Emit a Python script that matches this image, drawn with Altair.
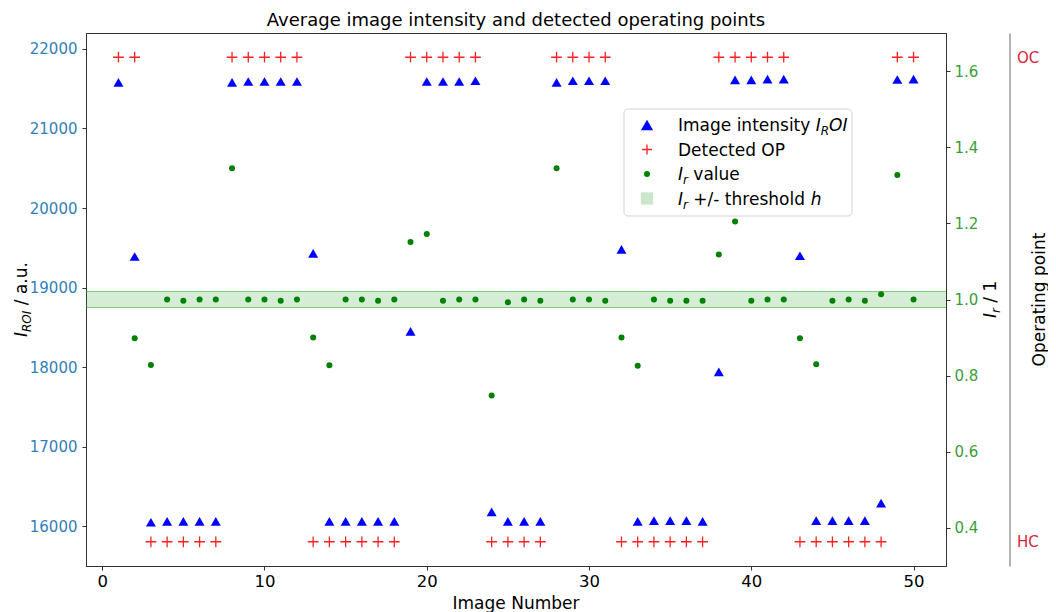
import altair as alt
import pandas as pd

FONT = "DejaVu Sans"

# ---------------- data ----------------
images = list(range(1, 51))
intensity = [21580, 19390, 16050, 16060, 16060, 16060, 16060, 21580, 21590, 21590,
             21590, 21590, 19430, 16060, 16060, 16060, 16060, 16060, 18450, 21590,
             21590, 21590, 21600, 16180, 16060, 16060, 16060, 21580, 21600, 21600,
             21600, 19480, 16060, 16070, 16070, 16070, 16060, 17940, 21610, 21610,
             21620, 21620, 19400, 16070, 16070, 16070, 16070, 16290, 21615, 21620]
ir_values = [None, 0.898, 0.828, 1.0, 0.997, 1.0, 1.0, 1.345, 1.0, 1.0,
             0.997, 1.0, 0.900, 0.827, 1.0, 1.0, 0.997, 1.0, 1.151, 1.172,
             0.997, 1.0, 1.0, 0.748, 0.993, 1.0, 0.997, 1.345, 1.0, 1.0,
             0.997, 0.900, 0.826, 1.0, 0.997, 0.997, 0.997, 1.118, 1.205, 0.997,
             1.0, 1.0, 0.898, 0.830, 0.997, 1.0, 0.997, 1.014, 1.327, 1.0]
op_states = ["OC", "OC", "HC", "HC", "HC", "HC", "HC", "OC", "OC", "OC",
             "OC", "OC", "HC", "HC", "HC", "HC", "HC", "HC", "OC", "OC",
             "OC", "OC", "OC", "HC", "HC", "HC", "HC", "OC", "OC", "OC",
             "OC", "HC", "HC", "HC", "HC", "HC", "HC", "OC", "OC", "OC",
             "OC", "OC", "HC", "HC", "HC", "HC", "HC", "HC", "OC", "OC"]
op_levels = {"HC": 0, "OC": 1}
threshold_center = 1.0
threshold_h = 0.021

x_ticks = [0, 10, 20, 30, 40, 50]
left_ticks = [16000, 17000, 18000, 19000, 20000, 21000, 22000]
right_ticks = [0.4, 0.6, 0.8, 1.0, 1.2, 1.4, 1.6]

title_text = "Average image intensity and detected operating points"
x_title = "Image Number"
op_title = "Operating point"

df = pd.DataFrame({
    "image": images,
    "intensity": intensity,
    "ir": ir_values,
    "op": [op_levels[s] for s in op_states],
})
band_df = pd.DataFrame({"lo": [threshold_center - threshold_h],
                        "hi": [threshold_center + threshold_h]})

# ---------------- layout ----------------
W, H = 860, 533

X = alt.X("image:Q",
          scale=alt.Scale(domain=[-1, 52], nice=False, zero=False),
          axis=alt.Axis(values=x_ticks, title=None, labelFontSize=16.5, labelColor="black",
                        tickSize=4, labelPadding=3, grid=False))

left_scale = alt.Scale(domain=[15500, 22200], nice=False, zero=False)
right_scale = alt.Scale(domain=[0.3, 1.7], nice=False, zero=False)
op_scale = alt.Scale(domain=[-0.05, 1.05], nice=False, zero=False)

right_axis = alt.Axis(orient="right", values=right_ticks, format=".1f", title=None,
                      labelColor="#3a9e3a", labelFontSize=15, tickSize=4, labelPadding=4,
                      grid=False)

tri = alt.Chart(df).mark_point(shape="triangle-up", filled=True, size=100,
                               color="#0000ff", opacity=1).encode(
    x=X,
    y=alt.Y("intensity:Q", scale=left_scale,
            axis=alt.Axis(orient="left", values=left_ticks, format="d", title=None,
                          labelColor="#3280ba", labelFontSize=15, tickSize=4,
                          labelPadding=5, grid=False)))

band = alt.Chart(band_df).mark_rect(color="#2ca02c", opacity=0.2).encode(
    x=alt.value(0), x2=alt.value(W),
    y=alt.Y("lo:Q", scale=right_scale, axis=right_axis), y2="hi:Q")
band_lo = alt.Chart(band_df).mark_rule(color="#2ca02c", opacity=0.55, strokeWidth=1.2).encode(
    x=alt.value(0), x2=alt.value(W), y=alt.Y("lo:Q", scale=right_scale, axis=right_axis))
band_hi = alt.Chart(band_df).mark_rule(color="#2ca02c", opacity=0.55, strokeWidth=1.2).encode(
    x=alt.value(0), x2=alt.value(W), y=alt.Y("hi:Q", scale=right_scale, axis=right_axis))
dots = alt.Chart(df).mark_circle(size=36, color="#008000", opacity=1).encode(
    x=X, y=alt.Y("ir:Q", scale=right_scale, axis=right_axis))
right_layer = alt.layer(band, band_lo, band_hi, dots)

plus_shape = "M-1,0L1,0M0,-1L0,1"
ops = alt.Chart(df).mark_point(shape=plus_shape, filled=False, size=115,
                               color="#ff2020", strokeWidth=1.3, opacity=1).encode(
    x=X,
    y=alt.Y("op:Q", scale=op_scale,
            axis=alt.Axis(orient="right", offset=63.5, values=[0, 1],
                          labelExpr="datum.value > 0.5 ? 'OC' : 'HC'",
                          labelColor="#d62738", labelFontSize=15, ticks=False,
                          tickSize=0, labelPadding=7, title=None, grid=False,
                          domainColor="#666")))

# ---------------- rich text helpers ----------------
CW = {' ': 0.318, '/': 0.337, '.': 0.318, '+': 0.838, '-': 0.361, '1': 0.636,
      'a': 0.613, 'b': 0.635, 'c': 0.550, 'd': 0.635, 'e': 0.615, 'g': 0.635,
      'h': 0.634, 'i': 0.278, 'l': 0.278, 'm': 0.974, 'n': 0.634, 'o': 0.612,
      'p': 0.635, 'r': 0.411, 's': 0.521, 't': 0.392, 'u': 0.634, 'v': 0.592,
      'y': 0.592, 'C': 0.698, 'D': 0.770, 'I': 0.295, 'O': 0.787, 'P': 0.603,
      'R': 0.695}


def tw(s, size):
    return sum(CW.get(c, 0.6) for c in s) * size


def text_layer(text, px, py, size, italic=False, angle=0, align="left", color="black"):
    return alt.Chart(pd.DataFrame({"t": [text]})).mark_text(
        align=align, baseline="alphabetic", angle=angle, fontSize=size, font=FONT,
        fontStyle="italic" if italic else "normal", color=color).encode(
        text="t:N", x=alt.value(px), y=alt.value(py))


def rich(pieces, x0, y0, angle=0):
    out = []
    off = 0.0
    for text, size, italic, shift in pieces:
        lead = len(text) - len(text.lstrip(" "))
        off += lead * CW[' '] * size
        core = text.strip(" ")
        if core:
            if angle == 0:
                out.append(text_layer(core, x0 + off, y0 + shift, size, italic))
            else:
                out.append(text_layer(core, x0 + shift, y0 - off, size, italic, angle=270))
        off += tw(core, size)
        trail = len(text) - len(text.rstrip(" ")) if core else 0
        off += trail * CW[' '] * size
    return out


FS = 17
SUB = 12
SH = 4

annotations = []
annotations.append(text_layer(title_text, W / 2, -7.5, 18, align="center"))
annotations.append(text_layer(x_title, W / 2, 576, FS, align="center"))
annotations.append(text_layer(op_title, 959, H / 2, FS, angle=270, align="center"))
annotations += rich([("I", FS, True, 0), ("ROI", SUB, True, SH), (" / a.u.", FS, False, 0)],
                    -59.5, 304, angle=270)
annotations += rich([("I", FS, True, 0), ("r", SUB, True, SH), (" / 1", FS, False, 0)],
                    910, 285, angle=270)

# ---------------- legend ----------------
one = pd.DataFrame({"k": [0]})
legend_box = alt.Chart(one).mark_rect(cornerRadius=4, fill="white", fillOpacity=0.85,
                                      stroke="#d4d4d4", strokeWidth=1).encode(
    x=alt.value(538), x2=alt.value(766), y=alt.value(76), y2=alt.value(183))
mx = 561
rows = [92, 116.5, 141, 165.5]
leg_syms = [
    alt.Chart(one).mark_point(shape="triangle-up", filled=True, size=150, color="#0000ff",
                              opacity=1).encode(x=alt.value(mx), y=alt.value(rows[0])),
    alt.Chart(one).mark_point(shape=plus_shape, filled=False, size=100, color="#ff2020",
                              strokeWidth=1.3, opacity=1).encode(x=alt.value(mx), y=alt.value(rows[1])),
    alt.Chart(one).mark_circle(size=36, color="#008000", opacity=1).encode(
        x=alt.value(mx), y=alt.value(rows[2])),
    alt.Chart(one).mark_square(size=150, color="#2ca02c", opacity=0.25).encode(
        x=alt.value(mx), y=alt.value(rows[3])),
]
tx = 592
leg_text = []
leg_text += rich([("Image intensity ", FS, False, 0), ("I", FS, True, 0), ("R", SUB, True, SH),
                  ("OI", FS, True, 0)], tx, rows[0] + 6)
leg_text += rich([("Detected OP", FS, False, 0)], tx, rows[1] + 6)
leg_text += rich([("I", FS, True, 0), ("r", SUB, True, SH), (" value", FS, False, 0)],
                 tx, rows[2] + 6)
leg_text += rich([("I", FS, True, 0), ("r", SUB, True, SH), (" +/- threshold ", FS, False, 0),
                  ("h", FS, True, 0)], tx, rows[3] + 6)

chart = alt.layer(tri, right_layer, ops, legend_box, *leg_syms, *leg_text, *annotations
                  ).resolve_scale(y="independent").properties(
    width=W, height=H,
    autosize=alt.AutoSizeParams(type="none"),
    padding={"left": 78, "top": 25, "right": 102, "bottom": 46},
).configure_view(stroke="#333", strokeWidth=1).configure_axis(
    domainColor="#333", tickColor="#333", labelFont=FONT, titleFont=FONT, grid=False)

chart.save("out.html", embed_options={"renderer": "svg", "actions": False})
